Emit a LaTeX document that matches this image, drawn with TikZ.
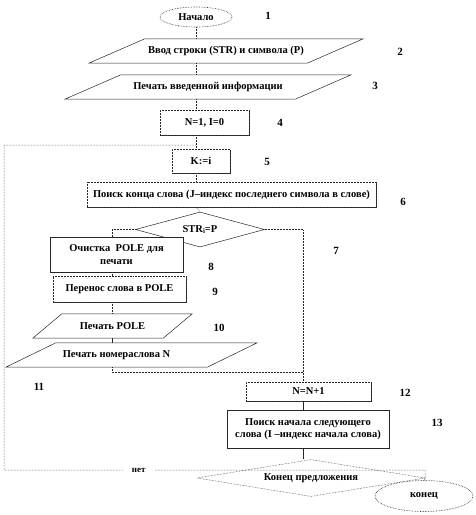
\documentclass[tikz,border=0pt]{standalone}
\usepackage{fontspec}
\setmainfont{Liberation Serif}
\usetikzlibrary{shapes.geometric,calc,shadows}
\tikzset{
  ln/.style={draw=black!85, line width=0.5pt},
  dl/.style={ln, densely dotted},
  txt/.style={font=\fontsize{10.5}{11.5}\selectfont\bfseries, inner sep=0pt, align=center},
  num/.style={font=\fontsize{11}{12}\selectfont\bfseries, inner sep=0pt},
  boxr/.style={txt, rectangle, draw=black!85, line width=0.5pt, fill=white,
     drop shadow={shadow xshift=0.9pt, shadow yshift=-0.9pt, fill=black!75, opacity=1}},
  boxd/.style={boxr, densely dotted},
  ell/.style={txt, ellipse, draw=black!85, densely dotted, line width=0.6pt, fill=white},
  dia/.style={txt, diamond, draw=black!85, line width=0.5pt, aspect=3.5},
  pgline/.style={draw=black!85, line width=0.5pt},
}
\newcommand{\pgram}[7]{%
  \node[txt, minimum width=#4*2pt, minimum height=#5*2pt] (#1) at (#2,#3) {#7};
  \draw[pgline] ($(#1.north west)+(#6,0)$) -- ($(#1.north east)+(#6,0)$)
     -- ($(#1.south east)-(#6,0)$) -- ($(#1.south west)-(#6,0)$) -- cycle;
}
\begin{document}
\begin{tikzpicture}[x=1pt,y=-1pt]
\useasboundingbox (0,0) rectangle (475,515);
% start
\node[ell, minimum width=72pt, minimum height=20pt] (e1) at (196,17) {Начало};
\pgram{p2}{226}{51}{109}{12}{28}{Ввод строки (STR) и символа (P)}
\pgram{p3}{208}{87}{115}{12}{28}{Печать введенной информации}
\node[boxd, minimum width=89pt, minimum height=25pt] (r4) at (204.5,122.5) {N=1, I=0};
\node[boxd, minimum width=58pt, minimum height=24pt] (r5) at (201,161) {K:=i};
\node[boxd, minimum width=289pt, minimum height=25pt] (r6) at (231.5,194.5) {Поиск конца слова (J–индекс последнего символа в слове)};
\node[dia, minimum width=129pt, minimum height=35pt] (d7) at (200,229.5) {STR\raisebox{-0.4ex}{\fontsize{7}{7}\selectfont i}=P};
\node[boxr, minimum width=133pt, minimum height=35pt] (r8) at (116.5,254.5) {Очистка~ POLE для\\[1pt]печати};
\node[boxd, minimum width=133pt, minimum height=26pt] (r9) at (119.5,289) {Перенос слова в POLE};
\pgram{p10}{112.5}{326}{65}{12}{14.5}{Печать POLE}
\pgram{p11}{131.5}{355}{100.5}{12}{25}{\hspace*{-30pt}Печать номераслова N}
\node[boxd, minimum width=125pt, minimum height=19pt] (r12) at (308.5,391.5) {N=N+1};
\node[boxr, minimum width=162pt, minimum height=38pt] (r13) at (308,429) {Поиск начала следующего\\[1pt]слова (I –индекс начала слова)};
\node[dia, densely dotted, minimum width=228pt, minimum height=37pt] (d14) at (311,478) {Конец предложения};
\node[ell, minimum width=98pt, minimum height=31pt] (e15) at (424,496) {конец};
% numbers
\node[num] (n1) at (268,16) {1};
\node[num] (n2) at (400,52) {2};
\node[num] (n3) at (375,86) {3};
\node[num] (n4) at (280,123) {4};
\node[num] (n5) at (267,162) {5};
\node[num] (n6) at (403,202) {6};
\node[num] (n7) at (336,251) {7};
\node[num] (n8) at (211,267) {8};
\node[num] (n9) at (215,292) {9};
\node[num] (n10) at (219,328) {10};
\node[num] (n11) at (39,387) {11};
\node[num] (n12) at (405,393) {12};
\node[num] (n13) at (437,423) {13};
% helper coordinates
\coordinate (sp) at (196,0);
\coordinate (lx) at (112,0);
\coordinate (rx) at (303,0);
\coordinate (join) at (196,145);
\coordinate (loopL1) at (4,145);
\coordinate (loopL2) at (4,470);
\coordinate (loopR) at (425,470);
\coordinate (bot) at (112,372);
\coordinate (botR) at (303,372);
% main spine
\draw[dl] (e1.south) -- (sp |- p2.north);
\draw[dl] (sp |- p2.south) -- (sp |- p3.north);
\draw[dl] (sp |- p3.south) -- (sp |- r4.north);
\draw[dl] (sp |- r4.south) -- (sp |- r5.north);
\draw[dl] (sp |- r5.south) -- (sp |- r6.north);
\draw[dl] (sp |- r6.south) -- (d7.north);
% left branch
\draw[dl] (d7.west) -| (lx |- r8.north);
\draw[dl] (lx |- r8.south) -- (lx |- r9.north);
\draw[dl] (lx |- r9.south) -- (lx |- p10.north);
\draw[ln] (lx |- p10.south) -- (lx |- p11.north);
\draw[dl] (lx |- p11.south) -- (bot) -- (botR);
% right branch
\draw[dl] (d7.east) -| (rx |- r12.north);
\draw[ln] (rx |- r12.south) -- (rx |- r13.north);
\draw[ln] (rx |- r13.south) -- (rx |- d14.north);
% loop back
\draw[dl] (d14.east) -- (loopR) -- node[pos=0.68, fill=white, inner xsep=9pt, inner ysep=1pt, font=\fontsize{9}{10}\selectfont\bfseries] (no) {нет} (loopL2) -- (loopL1) -- (join);
% end
\draw[dl] (d14.east) -- (e15.north);
\end{tikzpicture}
\end{document}
